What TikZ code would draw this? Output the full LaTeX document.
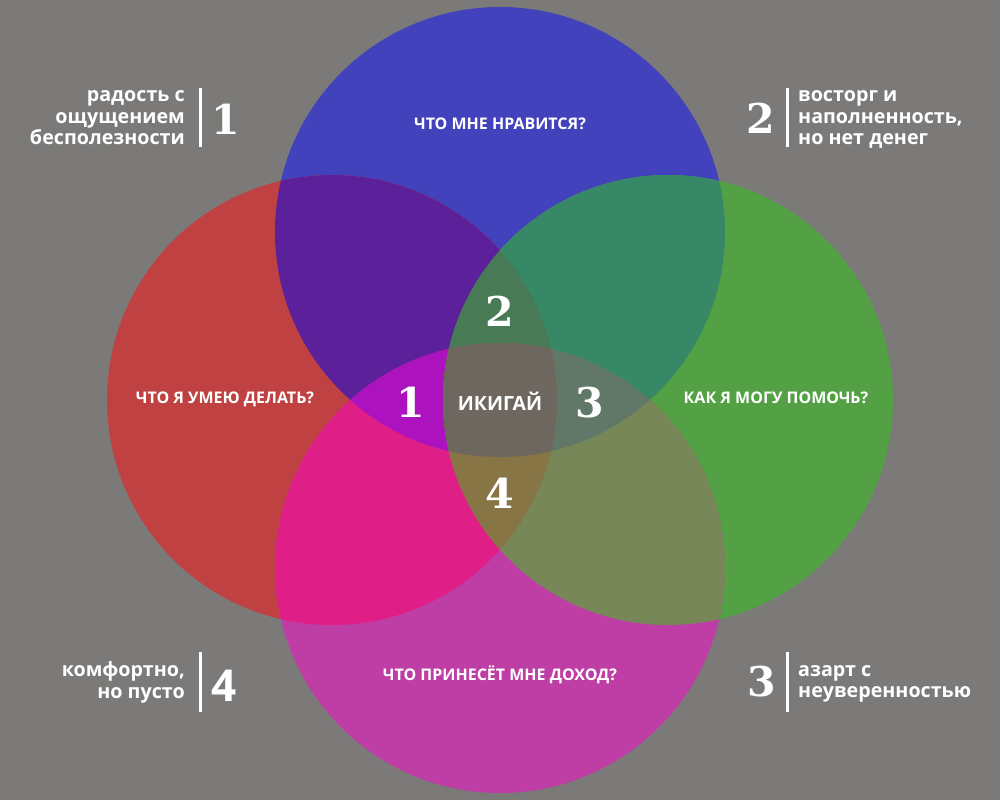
\documentclass[tikz,border=0pt]{standalone}
\usepackage{fontspec}
\setmainfont{Open Sans}
\newfontfamily\numfont{DejaVu Serif}
\definecolor{bg}{HTML}{7B7A79}
\definecolor{cT}{HTML}{4142BC}
\definecolor{cL}{HTML}{BF4141}
\definecolor{cR}{HTML}{53A144}
\definecolor{cB}{HTML}{BE3EA5}
\definecolor{cTL}{HTML}{5C209A}
\definecolor{cTR}{HTML}{368867}
\definecolor{cLB}{HTML}{E01E88}
\definecolor{cRB}{HTML}{778757}
\definecolor{cTLB}{HTML}{AD12BF}
\definecolor{cTLR}{HTML}{477A55}
\definecolor{cTRB}{HTML}{617868}
\definecolor{cLRB}{HTML}{887546}
\definecolor{cAll}{HTML}{6E675F}
\tikzset{
  lab/.style={text=white, inner sep=0pt, font=\bfseries\fontsize{16}{19}\selectfont},
  mid/.style={text=white, inner sep=0pt, font=\bfseries\fontsize{19.5}{21}\selectfont},
  side/.style={text=white, inner sep=0pt, font=\bfseries\fontsize{19.7}{21.5}\selectfont},
  num/.style={text=white, inner sep=0pt, font=\numfont\bfseries\fontsize{41}{41}\selectfont},
  sansnum/.style={text=white, inner sep=0pt, font=\bfseries\fontsize{44}{44}\selectfont},
  bar/.style={fill=white},
}
\begin{document}
\begin{tikzpicture}[x=1pt,y=-1pt]
\fill[bg] (0,0) rectangle (1000,800);
\useasboundingbox (0,0) rectangle (1000,800);
\def\cirT{(500,232) circle[radius=225pt]}
\def\cirL{(332,400) circle[radius=225pt]}
\def\cirR{(668,400) circle[radius=225pt]}
\def\cirB{(500,568) circle[radius=225pt]}
% single circles
\fill[cT] \cirT;
\fill[cL] \cirL;
\fill[cR] \cirR;
\fill[cB] \cirB;
% pairs
\begin{scope}\clip \cirT; \fill[cTL] \cirL; \end{scope}
\begin{scope}\clip \cirT; \fill[cTR] \cirR; \end{scope}
\begin{scope}\clip \cirL; \fill[cLB] \cirB; \end{scope}
\begin{scope}\clip \cirR; \fill[cRB] \cirB; \end{scope}
% triples
\begin{scope}\clip \cirT; \clip \cirL; \fill[cTLB] \cirB; \end{scope}
\begin{scope}\clip \cirT; \clip \cirL; \fill[cTLR] \cirR; \end{scope}
\begin{scope}\clip \cirT; \clip \cirR; \fill[cTRB] \cirB; \end{scope}
\begin{scope}\clip \cirL; \clip \cirR; \fill[cLRB] \cirB; \end{scope}
% all four
\begin{scope}\clip \cirT; \clip \cirL; \clip \cirR; \fill[cAll] \cirB; \end{scope}

% circle labels
\node[lab, anchor=base] (likes) at (500,129.5) {ЧТО МНЕ НРАВИТСЯ?};
\node[lab, anchor=base] (skills) at (225,403) {ЧТО Я УМЕЮ ДЕЛАТЬ?};
\node[lab, anchor=base] (help) at (776,403) {КАК Я МОГУ ПОМОЧЬ?};
\node[lab, anchor=base] (income) at (500,680) {ЧТО ПРИНЕСЁТ МНЕ ДОХОД?};
\node[mid, anchor=base] (ikigai) at (500,410) {ИКИГАЙ};

% centre numbers
\node[num] (n2) at (500,311.5) {2};
\node[num] (n1) at (411,402) {1};
\node[num] (n3) at (590,403) {3};
\node[num] (n4) at (500,493.5) {4};

% side legends
\fill[bar] (198.5,88) rectangle (201.5,147);
\fill[bar] (786,88) rectangle (789,147);
\fill[bar] (198.5,652) rectangle (201.5,712);
\fill[bar] (786,652) rectangle (789,712);

\node[num] (s1) at (226,119) {1};
\node[num] (s2) at (761,118) {2};
\node[sansnum] (s4) at (224,686) {4};
\node[num] (s3) at (762,682) {3};

\node[side, anchor=east, align=right] (t1) at (185,118) {радость с\\ощущением\\бесполезности};
\node[side, anchor=west, align=left] (t2) at (798,119.5) {восторг и\\наполненность,\\но нет денег};
\node[side, anchor=east, align=right] (t4) at (185,682.5) {комфортно,\\но пусто};
\node[side, anchor=west, align=left] (t3) at (798,684) {азарт с\\неуверенностью};
\end{tikzpicture}
\end{document}
